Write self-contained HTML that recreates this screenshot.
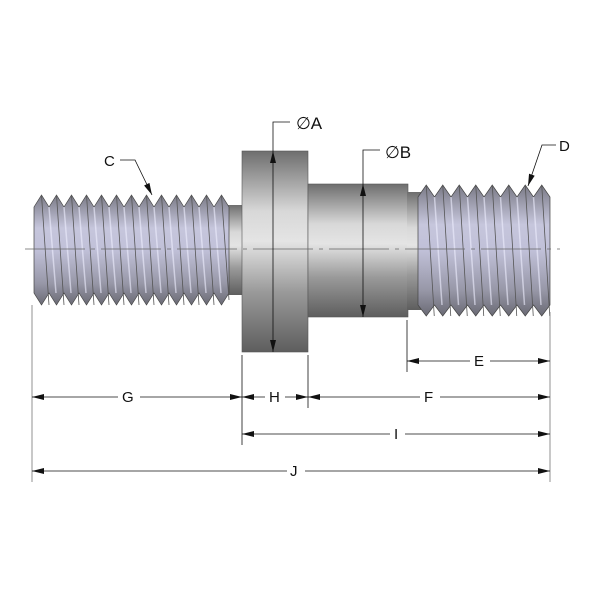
<!DOCTYPE html>
<html><head><meta charset="utf-8"><style>
html,body{margin:0;padding:0;background:#fff;width:600px;height:600px;overflow:hidden}
svg text{font-family:"Liberation Sans","DejaVu Sans",sans-serif;font-size:15px;fill:#111}
</style></head><body>
<svg width="600" height="600" viewBox="0 0 600 600" xmlns="http://www.w3.org/2000/svg">
<defs>
<linearGradient id="m" x1="0" y1="0" x2="0" y2="1">
<stop offset="0" stop-color="#6e6e6e"/><stop offset="0.3" stop-color="#d8d8d8"/><stop offset="0.45" stop-color="#e4e4e4"/><stop offset="0.7" stop-color="#9a9a9a"/><stop offset="1" stop-color="#5e5e5e"/>
</linearGradient>
<linearGradient id="t" x1="0" y1="0" x2="0" y2="1">
<stop offset="0" stop-color="#7a7a86"/><stop offset="0.3" stop-color="#c6c6dc"/><stop offset="0.5" stop-color="#c0c0d8"/><stop offset="0.8" stop-color="#9898a8"/><stop offset="1" stop-color="#6a6a74"/>
</linearGradient>
<marker id="a" markerWidth="12" markerHeight="6" refX="12" refY="3" orient="auto-start-reverse" markerUnits="userSpaceOnUse"><path d="M0,0L12,3L0,6z" fill="#111"/></marker>
</defs>
<rect x="226" y="205" width="18" height="90" fill="url(#m)"/>
<rect x="242" y="151" width="66" height="201" fill="url(#m)" stroke="#555" stroke-width="0.6"/>
<rect x="308" y="184" width="100" height="133" fill="url(#m)" stroke="#555" stroke-width="0.6"/>
<rect x="407" y="192" width="14" height="118" fill="url(#m)"/>
<path fill="url(#t)" stroke="#444" stroke-width="0.7" d="M34,207 L41.5,195 L49,207 L56.5,195 L64,207 L71.5,195 L79,207 L86.5,195 L94,207 L101.5,195 L109,207 L116.5,195 L124,207 L131.5,195 L139,207 L146.5,195 L154,207 L161.5,195 L169,207 L176.5,195 L184,207 L191.5,195 L199,207 L206.5,195 L214,207 L221.5,195 L229,207 L229,293 L221.5,305 L214,293 L206.5,305 L199,293 L191.5,305 L184,293 L176.5,305 L169,293 L161.5,305 L154,293 L146.5,305 L139,293 L131.5,305 L124,293 L116.5,305 L109,293 L101.5,305 L94,293 L86.5,305 L79,293 L71.5,305 L64,293 L56.5,305 L49,293 L41.5,305 L34,293 Z"/>
<path stroke="#555" stroke-width="0.8" fill="none" d="M41.5,195L49,305 M56.5,195L64,305 M71.5,195L79,305 M86.5,195L94,305 M101.5,195L109,305 M116.5,195L124,305 M131.5,195L139,305 M146.5,195L154,305 M161.5,195L169,305 M176.5,195L184,305 M191.5,195L199,305 M206.5,195L214,305 M221.5,195L229,300"/>
<path stroke="#eeeeff" stroke-width="1.5" opacity="0.6" fill="none" d="M49,207L56,293 M64,207L71,293 M79,207L86,293 M94,207L101,293 M109,207L116,293 M124,207L131,293 M139,207L146,293 M154,207L161,293 M169,207L176,293 M184,207L191,293 M199,207L206,293 M214,207L221,293"/>
<path fill="url(#t)" stroke="#444" stroke-width="0.7" d="M418,197 L426.25,185 L434.5,197 L442.75,185 L451,197 L459.25,185 L467.5,197 L475.75,185 L484,197 L492.25,185 L500.5,197 L508.75,185 L517,197 L525.25,185 L533.5,197 L541.75,185 L550,197 L550,305 L541.75,316 L533.5,305 L525.25,316 L517,305 L508.75,316 L500.5,305 L492.25,316 L484,305 L475.75,316 L467.5,305 L459.25,316 L451,305 L442.75,316 L434.5,305 L426.25,316 L418,305 Z"/>
<path stroke="#555" stroke-width="0.8" fill="none" d="M426.25,185L434.25,316 M442.75,185L450.75,316 M459.25,185L467.25,316 M475.75,185L483.75,316 M492.25,185L500.25,316 M508.75,185L516.75,316 M525.25,185L533.25,316 M541.75,185L549.75,316"/>
<path stroke="#eeeeff" stroke-width="1.5" opacity="0.6" fill="none" d="M434.5,197L442,305 M451,197L458.5,305 M467.5,197L475,305 M484,197L491.5,305 M500.5,197L508,305 M517,197L524.5,305 M533.5,197L541,305"/>
<line x1="25" y1="249" x2="560" y2="249" stroke="#666" stroke-width="0.8" stroke-dasharray="60,6,4,6"/>
<g stroke="#111" stroke-width="0.8" fill="none">
<line x1="32" y1="305" x2="32" y2="482" stroke="#777"/>
<line x1="242" y1="355" x2="242" y2="445"/>
<line x1="308" y1="355" x2="308" y2="408"/>
<line x1="407" y1="320" x2="407" y2="372"/>
<line x1="550" y1="312" x2="550" y2="482" stroke="#777"/>
<line x1="407" y1="361" x2="470" y2="361" marker-start="url(#a)"/><line x1="490" y1="361" x2="550" y2="361" marker-end="url(#a)"/>
<line x1="32" y1="397" x2="118" y2="397" marker-start="url(#a)"/><line x1="140" y1="397" x2="242" y2="397" marker-end="url(#a)"/>
<line x1="242" y1="397" x2="265" y2="397" marker-start="url(#a)"/><line x1="285" y1="397" x2="308" y2="397" marker-end="url(#a)"/>
<line x1="308" y1="397" x2="420" y2="397" marker-start="url(#a)"/><line x1="440" y1="397" x2="550" y2="397" marker-end="url(#a)"/>
<line x1="242" y1="434" x2="390" y2="434" marker-start="url(#a)"/><line x1="405" y1="434" x2="550" y2="434" marker-end="url(#a)"/>
<line x1="32" y1="471" x2="287" y2="471" marker-start="url(#a)"/><line x1="305" y1="471" x2="550" y2="471" marker-end="url(#a)"/>
<line x1="273" y1="151" x2="273" y2="352" marker-start="url(#a)" marker-end="url(#a)"/>
<polyline points="273,151 273,122 290,122"/>
<line x1="363" y1="184" x2="363" y2="317" marker-start="url(#a)" marker-end="url(#a)"/>
<polyline points="363,184 363,150 380,150"/>
<polyline points="120,160 135,160 152,195" marker-end="url(#a)"/>
<polyline points="556,145 542,145 528,186" marker-end="url(#a)"/>
</g>
<text x="296" y="129" style="font-size:17px">∅A</text>
<text x="385" y="158" style="font-size:17px">∅B</text>
<text x="104" y="166">C</text>
<text x="559" y="151">D</text>
<text x="474" y="366">E</text>
<text x="122" y="402">G</text>
<text x="269" y="402">H</text>
<text x="424" y="402">F</text>
<text x="394" y="439">I</text>
<text x="290" y="476">J</text>
</svg>
</body></html>
